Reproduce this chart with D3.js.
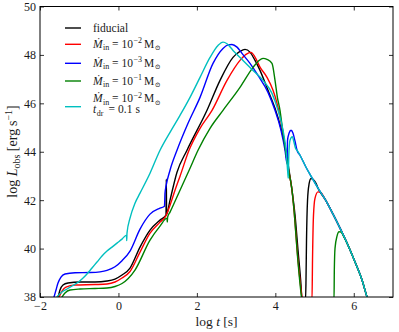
<!DOCTYPE html>
<meta charset="utf-8">

<head>
    <title>log L_obs vs log t</title>
</head>

<style>
    body { margin: 0; background: #fff; }
    text { font-family: "Liberation Serif", "DejaVu Serif", serif; fill: #1a1a1a; }
</style>

<body>
    <svg id="chart"></svg>

    <script src="https://cdnjs.cloudflare.com/ajax/libs/d3/7.8.5/d3.min.js"></script>
    <script>

        // Configuration
        var width = 399;
        var height = 332;

        // Ticks
        var xTicks = [-2, 0, 2, 4, 6];
        var yTicks = [38, 40, 42, 44, 46, 48, 50];

        // Series: [log t, log L]
        var fiducialPts = [
            [-1.592, 37.876], [-1.541, 38.0], [-1.490, 38.289], [-1.414, 38.495], [-1.286, 38.577],
            [-0.980, 38.619], [-0.598, 38.619], [-0.292, 38.660], [-0.088, 38.742], [0.091, 38.907],
            [0.295, 39.196], [0.550, 40.062], [0.805, 40.763], [1.060, 41.175], [1.213, 41.381],
            [1.220, 42.866], [1.228, 41.423], [1.315, 42.0], [1.493, 43.155], [1.748, 44.062],
            [2.258, 45.711], [2.590, 46.948], [2.921, 47.897], [3.099, 48.144], [3.227, 48.227],
            [3.354, 48.115], [3.482, 47.773], [3.609, 47.361], [3.813, 46.536], [3.992, 45.794],
            [4.145, 44.969], [4.247, 44.268], [4.349, 43.237], [4.425, 42.412], [4.502, 41.381],
            [4.578, 39.938], [4.655, 38.495], [4.680, 37.876],
            [4.770, 37.876], [4.782, 38.701], [4.795, 40.351], [4.821, 42.0], [4.859, 42.660],
            [4.910, 42.895], [4.961, 42.866], [5.037, 42.701]
        ];
        var mdot2Pts = [
            [-1.567, 37.876], [-1.516, 38.0], [-1.439, 38.247], [-1.337, 38.412], [-1.108, 38.495],
            [-0.598, 38.515], [-0.292, 38.536], [-0.088, 38.619], [0.091, 38.784], [0.295, 39.052],
            [0.550, 39.856], [0.805, 40.639], [1.060, 41.093], [1.213, 41.361], [1.315, 41.794],
            [1.442, 42.412], [1.570, 42.990], [1.799, 44.062], [2.080, 44.969], [2.386, 45.711],
            [2.768, 46.948], [3.099, 47.773], [3.252, 48.021], [3.380, 48.103], [3.482, 47.909],
            [3.609, 47.497], [3.788, 47.072], [3.941, 46.536], [4.043, 46.0], [4.170, 45.010],
            [4.323, 43.361], [4.425, 42.412], [4.476, 41.588], [4.578, 39.526], [4.680, 38.0],
            [4.693, 37.876],
            [4.935, 37.876], [4.948, 39.526], [4.973, 41.381], [5.012, 42.082], [5.088, 42.342],
            [5.165, 42.309]
        ];
        var mdot3Pts = [
            [-1.669, 37.876], [-1.643, 38.0], [-1.592, 38.289], [-1.541, 38.577], [-1.465, 38.825],
            [-1.363, 38.948], [-1.108, 39.000], [-0.725, 39.010], [-0.470, 39.040], [-0.292, 39.100],
            [-0.088, 39.250], [0.091, 39.500], [0.295, 39.897], [0.550, 40.804], [0.805, 41.423],
            [1.060, 41.670], [1.174, 41.753], [1.187, 42.289], [1.213, 42.577], [1.315, 43.237],
            [1.493, 44.062], [1.774, 45.175], [2.080, 46.247], [2.411, 47.649], [2.666, 48.268],
            [2.793, 48.412], [2.895, 48.433], [3.023, 48.322], [3.150, 48.062], [3.354, 47.649],
            [3.558, 47.155], [3.813, 46.454], [3.992, 45.711], [4.145, 44.887], [4.247, 44.062],
            [4.298, 43.526], [4.311, 44.474], [4.349, 44.763], [4.400, 44.887], [4.451, 44.763],
            [4.502, 44.433], [4.553, 44.062]
        ];
        var mdot1Pts = [
            [-1.490, 37.876], [-1.439, 38.0], [-1.363, 38.165], [-1.235, 38.289], [-0.980, 38.330],
            [-0.598, 38.351], [-0.292, 38.371], [-0.088, 38.433], [0.091, 38.557], [0.422, 39.113],
            [0.805, 40.351], [1.060, 40.928], [1.238, 41.258], [1.246, 41.093], [1.254, 41.30],
            [1.315, 41.505], [1.570, 42.412], [1.825, 43.320], [2.029, 44.062], [2.335, 44.969],
            [2.666, 45.711], [3.099, 46.660], [3.431, 47.485], [3.559, 47.732], [3.686, 47.856],
            [3.788, 47.814], [3.915, 47.649], [3.992, 46.948], [4.051, 46.260], [4.119, 45.711],
            [4.170, 45.093], [4.323, 43.361], [4.425, 42.412], [4.476, 41.588], [4.578, 39.443],
            [4.668, 38.0], [4.680, 37.876],
            [5.496, 37.876], [5.504, 39.113], [5.522, 40.021], [5.573, 40.515], [5.624, 40.693],
            [5.675, 40.680], [5.751, 40.474]
        ];
        var tdrPts = [
            [-1.618, 37.876], [-1.567, 38.0], [-1.439, 38.206], [-1.312, 38.330], [-1.184, 38.454],
            [-1.057, 38.577], [-0.929, 38.742], [-0.802, 38.948], [-0.674, 39.196], [-0.547, 39.443],
            [-0.419, 39.691], [-0.292, 39.897], [-0.164, 40.062], [-0.037, 40.227], [0.091, 40.392],
            [0.206, 40.557], [0.211, 40.330], [0.218, 40.639], [0.295, 41.258], [0.422, 41.876],
            [0.550, 42.289], [0.805, 43.113], [1.060, 44.062], [1.315, 44.804], [1.570, 45.505],
            [1.825, 46.247], [2.080, 47.072], [2.335, 47.897], [2.539, 48.392], [2.666, 48.528],
            [2.768, 48.462], [2.921, 48.186], [3.176, 47.773], [3.431, 47.361], [3.686, 46.948],
            [3.915, 46.412], [4.069, 45.711], [4.196, 44.887], [4.272, 44.062], [4.323, 43.031],
            [4.330, 42.907], [4.343, 43.856], [4.374, 44.474], [4.433, 44.619], [4.476, 44.392],
            [4.515, 44.144], [4.553, 44.062]
        ];
        // late-time decline shared by all runs
        var tailPts = [
            [4.629, 43.856], [4.782, 43.361], [4.910, 42.990], [5.088, 42.495], [5.267, 42.041],
            [5.471, 41.423], [5.649, 40.845], [5.828, 40.227], [6.032, 39.443], [6.210, 38.701],
            [6.338, 38.0], [6.363, 37.876]
        ];

        var seriesPts = [fiducialPts, mdot2Pts, mdot3Pts, mdot1Pts, tdrPts];
        var seriesColors = ["#000000", "#ff0000", "#0000ff", "#008000", "#00bfbf"];
        var legendExps = [null, "\u22122", "\u22123", "\u22121", "\u22122"];

        // Scales
        var x = d3.scaleLinear().domain([-2, 7]).range([40, 393]);
        var y = d3.scaleLinear().domain([38, 50]).range([297, 6.5]);

        var svg = d3.select('#chart')
            .attr('width', width)
            .attr('height', height);

        svg.append('defs').append('clipPath').attr('id', 'plotclip')
            .append('rect')
            .attr('x', x(-2)).attr('y', y(50))
            .attr('width', x(7) - x(-2)).attr('height', y(38) - y(50));

        // Curves
        var line = d3.line()
            .curve(d3.curveMonotoneX)
            .x(d => x(d[0]))
            .y(d => y(d[1]));

        var curves = svg.append('g').attr('clip-path', 'url(#plotclip)');
        seriesPts.forEach(function(pts, i) {
            var last = pts[pts.length - 1][0];
            var full = pts.concat(tailPts.filter(p => p[0] > last + 0.02));
            curves.append('path')
                .attr('d', line(full))
                .attr('fill', 'none')
                .attr('stroke', seriesColors[i])
                .attr('stroke-width', 1.4)
                .attr('stroke-linejoin', 'round');
        });

        // Axes (inward ticks on all sides)
        var fmt = d => d < 0 ? '\u2212' + Math.abs(d) : '' + d;
        var axes = [
            d3.axisBottom(x).tickValues(xTicks).tickFormat(fmt).tickPadding(4.5),
            d3.axisTop(x).tickValues(xTicks).tickFormat(''),
            d3.axisLeft(y).tickValues(yTicks).tickFormat(fmt).tickPadding(4),
            d3.axisRight(y).tickValues(yTicks).tickFormat('')
        ];
        var pos = ['translate(0,297)', 'translate(0,6.5)', 'translate(40,0)', 'translate(393,0)'];
        axes.forEach(function(ax, i) {
            var g = svg.append('g')
                .attr('transform', pos[i])
                .call(ax.tickSizeInner(-4).tickSizeOuter(0));
            g.select('.domain').remove();
            g.selectAll('line').attr('stroke', '#333');
            g.selectAll('text')
                .attr('font-family', '"Liberation Serif", serif')
                .attr('font-size', 12)
                .attr('fill', '#1a1a1a');
        });

        // Frame
        svg.append('rect')
            .attr('x', 40).attr('y', 6.5)
            .attr('width', 353).attr('height', 290.5)
            .attr('fill', 'none')
            .attr('stroke', '#000')
            .attr('stroke-width', 1);

        // Axis labels
        var xl = svg.append('text')
            .attr('x', 216.5).attr('y', 326)
            .attr('text-anchor', 'middle')
            .attr('font-size', 13.5);
        xl.append('tspan').text('log ');
        xl.append('tspan').attr('font-style', 'italic').text('t');
        xl.append('tspan').text(' [s]');

        var yl = svg.append('text')
            .attr('transform', 'translate(17,151.5) rotate(-90)')
            .attr('text-anchor', 'middle')
            .attr('font-size', 14);
        yl.append('tspan').text('log ');
        yl.append('tspan').attr('font-style', 'italic').text('L');
        yl.append('tspan').attr('font-size', 10).attr('dy', 3).text('obs');
        yl.append('tspan').attr('dy', -3).text(' [erg\u2009s');
        yl.append('tspan').attr('font-size', 10).attr('dy', -5).text('\u22121');
        yl.append('tspan').attr('dy', 5).text(']');

        // Legend
        var rowLineY = [28, 44.3, 63.3, 81, 106.7];
        var rowTextY = [31.5, 47.5, 66.5, 84.5, 102];
        var legend = svg.append('g');
        seriesColors.forEach(function(c, i) {
            legend.append('line')
                .attr('x1', 65).attr('x2', 81)
                .attr('y1', rowLineY[i]).attr('y2', rowLineY[i])
                .attr('stroke', c).attr('stroke-width', 1.4);
            var t = legend.append('text').attr('y', rowTextY[i]).attr('font-size', 11.5);
            if (legendExps[i] === null) {
                t.attr('x', 93).text('fiducial');
                return;
            }
            t.append('tspan').attr('x', 93).attr('font-style', 'italic').text('\u1E40');
            t.append('tspan').attr('dx', 0.5).attr('dy', 2.5).attr('font-size', 8).text('in');
            t.append('tspan').attr('x', 112).attr('dy', -2.5).text('=');
            t.append('tspan').attr('x', 121.5).text('10');
            t.append('tspan').attr('dx', 0.5).attr('dy', -4.5).attr('font-size', 8).text(legendExps[i]);
            t.append('tspan').attr('x', 144).attr('dy', 4.5).text('M');
            t.append('tspan').attr('dx', 0.5).attr('dy', 2.5).attr('font-size', 7).text('\u2299');
        });
        var td = legend.append('text').attr('y', 113).attr('font-size', 11.5);
        td.append('tspan').attr('x', 93).attr('font-style', 'italic').text('t');
        td.append('tspan').attr('dx', 0.5).attr('dy', 2.5).attr('font-size', 8).text('dr');
        td.append('tspan').attr('x', 108.5).attr('dy', -2.5).text('=');
        td.append('tspan').attr('x', 118).text('0.1');
        td.append('tspan').attr('x', 135.5).text('s');

    </script>

</body>

</html>
